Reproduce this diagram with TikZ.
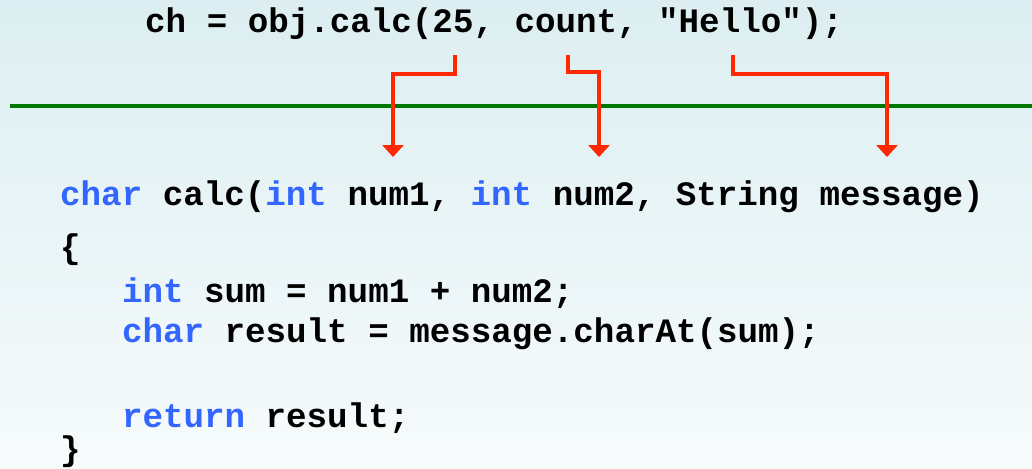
\documentclass[tikz,border=0pt]{standalone}
\usepackage{fontspec}
\setmonofont{Liberation Mono}
\usetikzlibrary{arrows.meta}
\definecolor{kwblue}{RGB}{51,102,255}
\definecolor{argred}{RGB}{255,40,0}
\definecolor{rulegreen}{RGB}{0,120,0}
\definecolor{bgtop}{RGB}{220,238,241}
\definecolor{bgbot}{RGB}{247,251,252}
\newcommand\kw[1]{\textcolor{kwblue}{#1}}
\tikzset{
  code/.style={anchor=base west, inner sep=0pt, font=\fontsize{34.2}{40}\selectfont\ttfamily\bfseries},
  passarrow/.style={draw=argred, line width=4.3pt, -{Triangle[width=21pt,length=12pt]}},
}
\begin{document}
\begin{tikzpicture}[x=1pt,y=-1pt]
\useasboundingbox (0,0) rectangle (1032,468);
\shade[top color=bgtop, bottom color=bgbot] (0,0) rectangle (1032,468);
\node[code] (call) at (145,33) {ch = obj.calc(25, count, "Hello");};
\draw[rulegreen, line width=4pt] (10,106) -- (1032,106);
\node[code] (sig) at (60,205) {\kw{char} calc(\kw{int} num1, \kw{int} num2, String message)};
\node[code] (open) at (60,258) {\{};
\node[code] (l1) at (121.8,302) {\kw{int} sum = num1 + num2;};
\node[code] (l2) at (121.8,342) {\kw{char} result = message.charAt(sum);};
\node[code] (l3) at (121.8,427) {\kw{return} result;};
\node[code] (close) at (60,460) {\}};
\coordinate (s1) at (455,55);
\coordinate (s2) at (568,55);
\coordinate (s3) at (733,55);
\coordinate (t1) at (393,157);
\coordinate (t2) at (599,157);
\coordinate (t3) at (887,157);
\draw[passarrow] (s1) -- ++(0,19) -| (t1);
\draw[passarrow] (s2) -- ++(0,17) -| (t2);
\draw[passarrow] (s3) -- ++(0,19) -| (t3);
\end{tikzpicture}
\end{document}
